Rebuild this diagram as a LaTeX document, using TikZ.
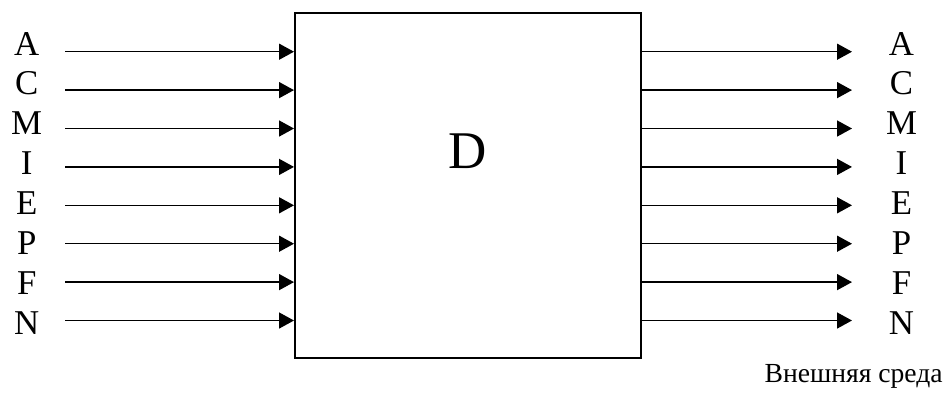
\documentclass[tikz,border=0pt]{standalone}
\usepackage{fontspec}
\setmainfont{Liberation Serif}
\usetikzlibrary{arrows.meta, positioning}

\tikzset{
    sig/.style={line width=0.75pt, -{Triangle[length=7.5pt, width=8pt]}},
    signame/.style={anchor=base, font=\fontsize{17.4}{20}\selectfont},
}

\begin{document}
\begin{tikzpicture}[x=0.5pt, y=-0.5pt]
    \useasboundingbox (0,0) rectangle (946,404);

    \node[draw, line width=1pt, minimum width=173pt, minimum height=172.5pt] (Block) at (468,185.5) {};
    \node[font=\fontsize{26.5}{30}\selectfont]  (Block Name)  at (468,151) {D};

    % inputs
    \node[signame] (In A)  at (26.7,55.0)  {A};
    \node[signame] (In C)  at (26.7,94.9)  {C};
    \node[signame] (In M)  at (26.7,134.8) {M};
    \node[signame] (In I)  at (26.7,174.7) {I};
    \node[signame] (In E)  at (26.7,214.6) {E};
    \node[signame] (In P)  at (26.7,254.5) {P};
    \node[signame] (In F)  at (26.7,294.4) {F};
    \node[signame] (In N)  at (26.7,334.3) {N};

    \coordinate (tail In A) at (65,51.7);
    \coordinate (tail In C) at (65,90.1);
    \coordinate (tail In M) at (65,128.5);
    \coordinate (tail In I) at (65,166.9);
    \coordinate (tail In E) at (65,205.3);
    \coordinate (tail In P) at (65,243.7);
    \coordinate (tail In F) at (65,282.1);
    \coordinate (tail In N) at (65,320.5);

    % outputs
    \node[signame] (Out A) at (901.5,55.0)  {A};
    \node[signame] (Out C) at (901.5,94.9)  {C};
    \node[signame] (Out M) at (901.5,134.8) {M};
    \node[signame] (Out I) at (901.5,174.7) {I};
    \node[signame] (Out E) at (901.5,214.6) {E};
    \node[signame] (Out P) at (901.5,254.5) {P};
    \node[signame] (Out F) at (901.5,294.4) {F};
    \node[signame] (Out N) at (901.5,334.3) {N};

    \coordinate (head Out A) at (852,51.7);
    \coordinate (head Out C) at (852,90.1);
    \coordinate (head Out M) at (852,128.5);
    \coordinate (head Out I) at (852,166.9);
    \coordinate (head Out E) at (852,205.3);
    \coordinate (head Out P) at (852,243.7);
    \coordinate (head Out F) at (852,282.1);
    \coordinate (head Out N) at (852,320.5);

    \foreach \s in {A,C,M,I,E,P,F,N} {
        \draw[sig] (tail In \s) -- (tail In \s -| Block.west);
        \draw[sig] (head Out \s -| Block.east) -- (head Out \s);
    }

    \node[anchor=base east, inner sep=0pt, font=\fontsize{13.8}{16}\selectfont] (Environment) at (943,382.7) {Внешняя среда};
\end{tikzpicture}
\end{document}
